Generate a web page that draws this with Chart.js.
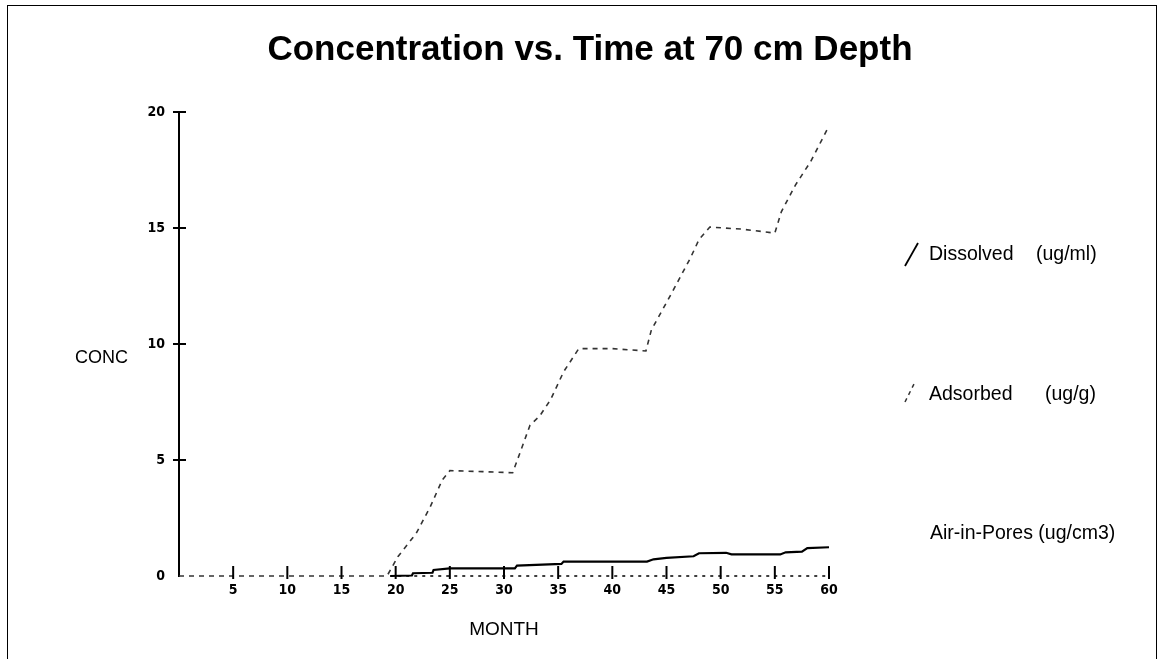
<!DOCTYPE html>
<html><head><meta charset="utf-8">
<script src="https://cdn.jsdelivr.net/npm/chart.js@4/dist/chart.umd.min.js"></script>
<style>
html,body{margin:0;padding:0;background:#fff;}
#wrap{position:relative;width:1163px;height:659px;overflow:hidden;font-family:"Liberation Sans",Arial,sans-serif;color:#000;}
#frame{position:absolute;left:7px;top:5px;width:1150px;height:700px;border:1.5px solid #000;box-sizing:border-box;}
#c{position:absolute;left:0;top:0;}
.t{position:absolute;white-space:nowrap;line-height:1;}
#title{left:0;width:1180px;text-align:center;top:30px;font-weight:bold;font-size:35px;}
#conc{left:75px;top:348px;font-size:18px;}
.leg{font-size:19.5px;}
svg{position:absolute;left:0;top:0;}
</style></head>
<body>
<div id="wrap">
  <div id="frame"></div>
  <canvas id="c" width="1163" height="659"></canvas>
  <div class="t" id="title">Concentration vs. Time at 70 cm Depth</div>
  <div class="t" id="conc">CONC</div>
  <svg width="1163" height="659">
    <line x1="905" y1="266" x2="918" y2="243" stroke="#000" stroke-width="1.8"/>
    <line x1="905" y1="402" x2="915" y2="382" stroke="#333" stroke-width="1.5" stroke-dasharray="4,4"/>
  </svg>
  <div class="t leg" style="left:929px;top:244px;">Dissolved</div>
  <div class="t leg" style="left:1036px;top:244px;">(ug/ml)</div>
  <div class="t leg" style="left:929px;top:384px;">Adsorbed</div>
  <div class="t leg" style="left:1045px;top:384px;">(ug/g)</div>
  <div class="t leg" style="left:930px;top:523px;">Air-in-Pores (ug/cm3)</div>
</div>
<script>
// ---- data ----
const dissolvedMonths = [19.5, 21.5, 21.6, 23.4, 23.5, 25.0, 31.0, 31.2, 35.3, 35.5, 43.2, 43.8, 45.0, 47.5, 48.0, 50.5, 51.0, 55.5, 56.0, 57.5, 58.0, 60.0];
const dissolvedValues = [0, 0.02, 0.12, 0.14, 0.26, 0.33, 0.33, 0.45, 0.52, 0.62, 0.62, 0.72, 0.78, 0.85, 0.98, 1.0, 0.93, 0.93, 1.02, 1.05, 1.2, 1.24];

const adsorbedMonths = [0, 19.2, 20.2, 21.9, 23.2, 24.3, 25.0, 28.0, 30.8, 31.6, 32.4, 33.3, 34.3, 35.5, 36.9, 40.0, 43.1, 43.6, 45.6, 47.2, 48.0, 49.0, 52.0, 55.0, 55.6, 56.9, 58.3, 58.9, 60.0];
const adsorbedValues = [0, 0, 0.83, 1.84, 2.99, 4.14, 4.54, 4.5, 4.45, 5.47, 6.5, 6.9, 7.6, 8.8, 9.8, 9.8, 9.7, 10.6, 12.3, 13.7, 14.5, 15.04, 14.95, 14.78, 15.7, 16.85, 17.86, 18.4, 19.4];

const airMonths = [19.5, 60];
const airValues = [0, 0];

const xTickValues = [5, 10, 15, 20, 25, 30, 35, 40, 45, 50, 55, 60];
const yTickValues = [0, 5, 10, 15, 20];

const toPts = (xs, ys) => xs.map((m, i) => ({x: m, y: ys[i]}));

const tickFont = {family: '"Liberation Sans Narrow","DejaVu Sans Condensed",Arial,sans-serif', size: 14, weight: 'bold'};

const tickMarks = {
  id: 'tickMarks',
  afterDatasetsDraw(chart) {
    const {ctx, scales: {x, y}} = chart;
    ctx.save();
    ctx.strokeStyle = '#000';
    ctx.lineWidth = 2;
    const y0 = y.getPixelForValue(0);
    const x0 = x.getPixelForValue(0);
    xTickValues.forEach(v => {
      const px = x.getPixelForValue(v);
      ctx.beginPath(); ctx.moveTo(px, y0 - 10); ctx.lineTo(px, y0 + 3); ctx.stroke();
    });
    yTickValues.forEach(v => {
      if (v === 0) return;
      const py = y.getPixelForValue(v);
      ctx.beginPath(); ctx.moveTo(x0 - 6, py); ctx.lineTo(x0 + 7, py); ctx.stroke();
    });
    ctx.restore();
  }
};

new Chart(document.getElementById('c'), {
  type: 'line',
  data: {
    datasets: [
      {label: 'Adsorbed', data: toPts(adsorbedMonths, adsorbedValues), borderColor: '#333', borderWidth: 1.6, borderDash: [5, 5], pointRadius: 0, tension: 0, clip: 6},
      {label: 'Air-in-Pores', data: toPts(airMonths, airValues), borderColor: '#000', borderWidth: 1.6, borderDash: [3, 5], pointRadius: 0, tension: 0, clip: 6},
      {label: 'Dissolved', data: toPts(dissolvedMonths, dissolvedValues), borderColor: '#000', borderWidth: 2.2, pointRadius: 0, tension: 0, clip: 6}
    ]
  },
  options: {
    responsive: false,
    animation: false,
    events: [],
    layout: {padding: {left: 0, right: 334, top: 112, bottom: 0}},
    plugins: {legend: {display: false}, title: {display: false}, tooltip: {enabled: false}},
    scales: {
      x: {
        type: 'linear', min: 0, max: 60,
        grid: {display: false, drawTicks: false},
        border: {display: false},
        afterBuildTicks: s => { s.ticks = [0].concat(xTickValues).map(v => ({value: v})); },
        ticks: {color: '#000', font: tickFont, padding: 6, maxRotation: 0, autoSkip: false,
                callback: v => v === 0 ? '' : String(v)},
        title: {display: true, text: 'MONTH', color: '#000', font: {family: '"Liberation Sans",Arial,sans-serif', size: 19}, padding: {top: 0, bottom: 18}},
        afterFit: s => { s.height = 83; }
      },
      y: {
        type: 'linear', min: 0, max: 20,
        grid: {display: false, drawTicks: false},
        border: {display: true, color: '#000', width: 2},
        afterBuildTicks: s => { s.ticks = yTickValues.map(v => ({value: v})); },
        ticks: {color: '#000', font: tickFont, padding: 14, autoSkip: false},
        afterFit: s => { s.width = 179; }
      }
    }
  },
  plugins: [tickMarks]
});
</script>
</body></html>
